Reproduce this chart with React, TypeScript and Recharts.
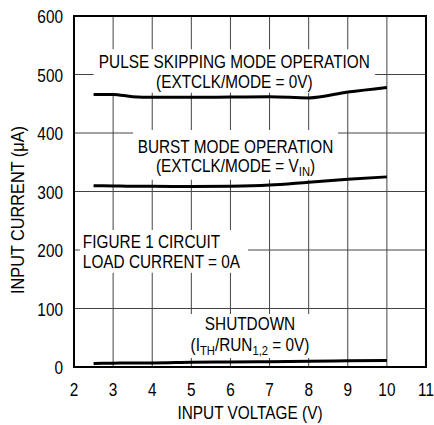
import {
  LineChart,
  Line,
  XAxis,
  YAxis,
  CartesianGrid,
  ReferenceArea,
} from "recharts";

const FONT = "'Liberation Sans', Arial, sans-serif";
const FS = 18.5;
const SX = 0.83; // squeeze to mimic a condensed face

// input voltage (V)
const voltage = [2.5, 3, 3.5, 4, 5, 6, 7, 8, 9, 10];
// input current (uA)
const pulseSkipping = [466, 466, 462, 461, 461, 461.5, 462, 460, 470, 478];
const burstMode = [310, 309.5, 309, 309, 308.5, 309, 311, 316, 321, 325];
const shutdown = [6, 6.5, 7, 7, 8, 8.5, 9, 10, 10.5, 11];

const xTicks = [2, 3, 4, 5, 6, 7, 8, 9, 10, 11];
const yTicks = [0, 100, 200, 300, 400, 500, 600];

const data = voltage.map((v, i) => ({
  v,
  pulse: pulseSkipping[i],
  burst: burstMode[i],
  shdn: shutdown[i],
}));

type Part = { t: string; sub?: boolean };

// text squeezed horizontally around its anchor point
const Narrow = (props: {
  x: number;
  y: number;
  anchor?: "start" | "middle" | "end";
  rotate?: boolean;
  sx?: number;
  parts: Part[];
}) => {
  const sx = props.sx || SX;
  const tf = props.rotate
    ? `translate(${props.x},${props.y}) rotate(-90) scale(${sx},1)`
    : `translate(${props.x},${props.y}) scale(${sx},1)`;
  return (
    <text transform={tf} x={0} y={0} textAnchor={props.anchor || "middle"} fontFamily={FONT} fontSize={FS} fill="#000">
      {props.parts.map((p, j) =>
        p.sub ? (
          <tspan key={j} fontSize={13.5} dy={4}>
            {p.t}
          </tspan>
        ) : (
          <tspan key={j} dy={j > 0 && props.parts[j - 1].sub ? -4 : 0}>
            {p.t}
          </tspan>
        )
      )}
    </text>
  );
};

type BoxTextProps = {
  viewBox?: { x: number; y: number; width: number; height: number };
  lines: Part[][];
  baselines: number[];
  align?: "middle" | "start";
  indent?: number;
};

const BoxText = (props: BoxTextProps) => {
  const vb = props.viewBox;
  if (!vb) return null;
  const anchor = props.align || "middle";
  const x = anchor === "middle" ? vb.x + vb.width / 2 : vb.x + (props.indent || 0);
  return (
    <g>
      {props.lines.map((line, i) => (
        <Narrow key={i} x={x} y={vb.y + props.baselines[i]} anchor={anchor} parts={line} />
      ))}
    </g>
  );
};

const XTick = (props: any) => (
  <Narrow x={props.x} y={props.y + 27} parts={[{ t: String(props.payload.value) }]} />
);

const YTick = (props: any) => (
  <Narrow x={props.x} y={props.y + 7} anchor="end" parts={[{ t: String(props.payload.value) }]} />
);

const XTitle = (props: any) => {
  const vb = props.viewBox;
  return <Narrow x={vb.x + vb.width / 2} y={vb.y + 52} parts={[{ t: "INPUT VOLTAGE (V)" }]} />;
};

const YTitle = (props: any) => {
  const vb = props.viewBox;
  return <Narrow x={24} y={vb.y + 194} rotate sx={0.88} parts={[{ t: "INPUT CURRENT (μA)" }]} />;
};

const App = () => {
  return (
    <div style={{ fontFamily: FONT }}>
      <style>{`body { margin: 0; }`}</style>
      <LineChart width={434} height={425} data={data} margin={{ top: 16, right: 8, bottom: 0, left: 0 }}>
        <CartesianGrid stroke="#444" strokeWidth={1} />
        <XAxis
          dataKey="v"
          type="number"
          domain={[2, 11]}
          ticks={xTicks}
          interval={0}
          allowDataOverflow
          height={58}
          axisLine={false}
          tickLine={false}
          tickSize={0}
          tickMargin={2}
          tick={<XTick />}
          label={<XTitle />}
        />
        <YAxis
          type="number"
          domain={[0, 600]}
          ticks={yTicks}
          interval={0}
          width={74}
          axisLine={false}
          tickLine={false}
          tickSize={0}
          tickMargin={11}
          tick={<YTick />}
          label={<YTitle />}
        />
        <ReferenceArea
          x1={2.5}
          x2={9.7}
          y1={469}
          y2={543}
          fill="#fff"
          fillOpacity={1}
          stroke="none"
          label={
            <BoxText
              lines={[[{ t: "PULSE SKIPPING MODE OPERATION" }], [{ t: "(EXTCLK/MODE = 0V)" }]]}
              baselines={[19, 38.5]}
            />
          }
        />
        <ReferenceArea
          x1={3.51}
          x2={8.75}
          y1={320}
          y2={405}
          fill="#fff"
          fillOpacity={1}
          stroke="none"
          label={
            <BoxText
              lines={[[{ t: "BURST MODE OPERATION" }], [{ t: "(EXTCLK/MODE = V" }, { t: "IN", sub: true }, { t: ")" }]]}
              baselines={[22.7, 41.5]}
            />
          }
        />
        <ReferenceArea
          x1={2.15}
          x2={6.45}
          y1={161}
          y2={234}
          fill="#fff"
          fillOpacity={1}
          stroke="none"
          label={
            <BoxText
              lines={[[{ t: "FIGURE 1 CIRCUIT" }], [{ t: "LOAD CURRENT = 0A" }]]}
              baselines={[18, 38]}
              align="start"
              indent={3}
            />
          }
        />
        <ReferenceArea
          x1={4.66}
          x2={8.34}
          y1={15.5}
          y2={90.5}
          fill="#fff"
          fillOpacity={1}
          stroke="none"
          label={
            <BoxText
              lines={[
                [{ t: "SHUTDOWN" }],
                [{ t: "(I" }, { t: "TH", sub: true }, { t: "/RUN" }, { t: "1,2", sub: true }, { t: " = 0V)" }],
              ]}
              baselines={[16, 37]}
            />
          }
        />
        <Line type="monotone" dataKey="pulse" stroke="#000" strokeWidth={3} dot={false} isAnimationActive={false} />
        <Line type="monotone" dataKey="burst" stroke="#000" strokeWidth={3} dot={false} isAnimationActive={false} />
        <Line type="monotone" dataKey="shdn" stroke="#000" strokeWidth={3} dot={false} isAnimationActive={false} />
        <ReferenceArea x1={2} x2={11} y1={0} y2={600} fill="none" stroke="#000" strokeWidth={2} ifOverflow="visible" />
      </LineChart>
    </div>
  );
};

export default App;
